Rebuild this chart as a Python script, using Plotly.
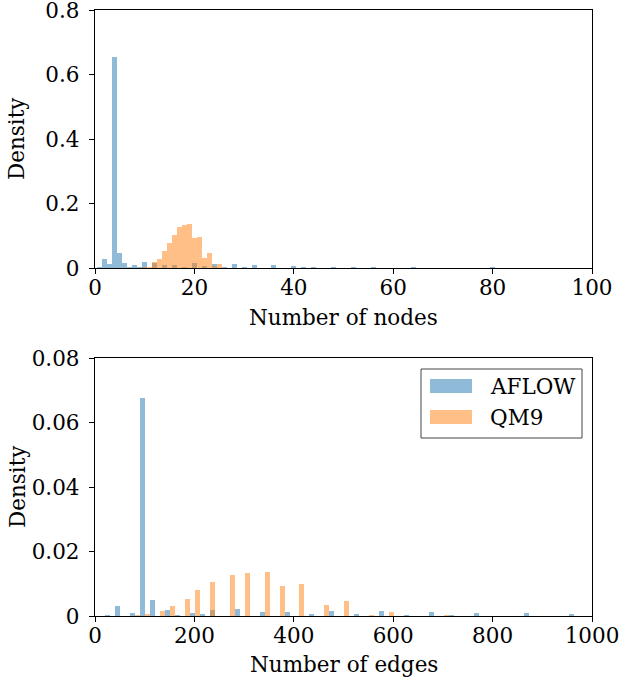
import plotly.graph_objects as go

# ---- Data ----
# Top panel: number of nodes (bin centres, bin width 1)
aflow_nodes_x = [1, 2, 3, 4, 5, 6, 7, 8, 9, 10, 12, 14, 16, 18, 20, 22, 24, 26, 28,
                 30, 32, 36, 40, 42, 44, 48, 52, 56, 64, 80]
aflow_nodes_density = [0.003, 0.028, 0.011, 0.653, 0.046, 0.015, 0.003, 0.009, 0.004, 0.019,
                       0.016, 0.010, 0.010, 0.004, 0.014, 0.005, 0.013, 0.002, 0.011,
                       0.004, 0.008, 0.008, 0.006, 0.003, 0.004, 0.004, 0.004, 0.002, 0.002, 0.004]
qm9_nodes_x = [9, 10, 11, 12, 13, 14, 15, 16, 17, 18, 19, 20, 21, 22, 23, 24, 25, 26]
qm9_nodes_density = [0.001, 0.002, 0.004, 0.018, 0.029, 0.052, 0.077, 0.103, 0.127, 0.132,
                     0.136, 0.093, 0.097, 0.031, 0.046, 0.005, 0.012, 0.001]

# Bottom panel: number of edges (bin centres, bin width ~10)
aflow_edges_x = [25, 45, 75, 95, 115, 146, 166, 196, 216, 236, 287, 337, 387, 436, 476,
                 526, 576, 627, 677, 717, 767, 868, 958]
aflow_edges_density = [0.0004, 0.0030, 0.0010, 0.0677, 0.0049, 0.0018, 0.0002, 0.0009,
                       0.0005, 0.0020, 0.0022, 0.0011, 0.0012, 0.0006, 0.0016, 0.0006,
                       0.0016, 0.0002, 0.0012, 0.0002, 0.0008, 0.0008, 0.0006]
qm9_edges_x = [85, 105, 136, 156, 186, 206, 236, 277, 307, 347, 377, 415, 466, 506, 556, 596, 707]
qm9_edges_density = [0.0002, 0.0007, 0.0014, 0.0030, 0.0052, 0.0080, 0.0106, 0.0128, 0.0133,
                     0.0136, 0.0092, 0.0098, 0.0033, 0.0048, 0.0004, 0.0013, 0.0002]

series_names = ["AFLOW", "QM9"]
top_xticks = [0, 20, 40, 60, 80, 100]
top_yticks = [0, 0.2, 0.4, 0.6, 0.8]
top_yticklabels = ["0", "0.2", "0.4", "0.6", "0.8"]
bot_xticks = [0, 200, 400, 600, 800, 1000]
bot_yticks = [0, 0.02, 0.04, 0.06, 0.08]
bot_yticklabels = ["0", "0.02", "0.04", "0.06", "0.08"]
x_titles = ["Number of nodes", "Number of edges"]
y_title = "Density"

BLUE = "rgba(31,119,180,0.5)"
ORANGE = "rgba(255,127,14,0.5)"
FONT = "DejaVu Serif"
TICK_SIZE = 21.5
LABEL_SIZE = 21.5
W, H = 621, 683

fig = go.Figure()
fig.add_trace(go.Bar(x=aflow_nodes_x, y=aflow_nodes_density, width=1, marker=dict(color=BLUE, line_width=0),
                     name=series_names[0], xaxis="x", yaxis="y", showlegend=False))
fig.add_trace(go.Bar(x=qm9_nodes_x, y=qm9_nodes_density, width=1, marker=dict(color=ORANGE, line_width=0),
                     name=series_names[1], xaxis="x", yaxis="y", showlegend=False))
fig.add_trace(go.Bar(x=aflow_edges_x, y=aflow_edges_density, width=10, marker=dict(color=BLUE, line_width=0),
                     name=series_names[0], xaxis="x2", yaxis="y2", showlegend=False))
fig.add_trace(go.Bar(x=qm9_edges_x, y=qm9_edges_density, width=10, marker=dict(color=ORANGE, line_width=0),
                     name=series_names[1], xaxis="x2", yaxis="y2", showlegend=False))

def px_x(p):
    return p / W

def px_y(p):
    return 1 - p / H

axis_common = dict(showline=True, linecolor="black", linewidth=1.3, mirror=True,
                   ticks="outside", ticklen=5, tickwidth=1.3, tickcolor="black",
                   showgrid=False, zeroline=False, automargin=False,
                   ticklabeloverflow="allow",
                   tickfont=dict(family=FONT, size=TICK_SIZE, color="black"))
xaxis_common = dict(axis_common, ticklabelstandoff=-5)
yaxis_common = dict(axis_common, ticklabelstandoff=5)

xdom = [px_x(95), px_x(592)]
fig.update_layout(
    width=W, height=H,
    margin=dict(l=0, r=0, t=0, b=0, pad=0, autoexpand=False),
    plot_bgcolor="white", paper_bgcolor="white",
    barmode="overlay", bargap=0,
    showlegend=False,
    font=dict(family=FONT, size=TICK_SIZE, color="black"),
    xaxis=dict(domain=xdom, anchor="y", range=[0, 100], tickvals=top_xticks, **xaxis_common),
    yaxis=dict(domain=[px_y(268), px_y(10)], anchor="x", range=[0, 0.8],
               tickvals=top_yticks, ticktext=top_yticklabels, **yaxis_common),
    xaxis2=dict(domain=xdom, anchor="y2", range=[0, 1000], tickvals=bot_xticks, **xaxis_common),
    yaxis2=dict(domain=[px_y(616), px_y(358)], anchor="x2", range=[0, 0.08],
                tickvals=bot_yticks, ticktext=bot_yticklabels, **yaxis_common),
)

lbl_font = dict(family=FONT, size=LABEL_SIZE, color="black")
annotations = [
    dict(text=x_titles[0], xref="paper", yref="paper", x=px_x(343.5), y=px_y(317),
         xanchor="center", yanchor="middle", showarrow=False, font=lbl_font),
    dict(text=x_titles[1], xref="paper", yref="paper", x=px_x(343.5), y=px_y(664),
         xanchor="center", yanchor="middle", showarrow=False, font=lbl_font),
    dict(text=y_title, xref="paper", yref="paper", x=px_x(17), y=px_y(139), textangle=-90,
         xanchor="center", yanchor="middle", showarrow=False, font=lbl_font),
    dict(text=y_title, xref="paper", yref="paper", x=px_x(17), y=px_y(487), textangle=-90,
         xanchor="center", yanchor="middle", showarrow=False, font=lbl_font),
    dict(text=series_names[0], xref="paper", yref="paper", x=px_x(488), y=px_y(386),
         xanchor="left", yanchor="middle", showarrow=False, font=lbl_font),
    dict(text=series_names[1], xref="paper", yref="paper", x=px_x(488), y=px_y(417),
         xanchor="left", yanchor="middle", showarrow=False, font=lbl_font),
]

# Legend drawn manually (matplotlib-style wide patches)
shapes = [
    dict(type="rect", xref="paper", yref="paper", x0=px_x(421), x1=px_x(582), y0=px_y(438), y1=px_y(369),
         line=dict(color="#444444", width=1), fillcolor="white", layer="above"),
    dict(type="rect", xref="paper", yref="paper", x0=px_x(430), x1=px_x(472), y0=px_y(393), y1=px_y(379),
         line=dict(width=0), fillcolor=BLUE, layer="above"),
    dict(type="rect", xref="paper", yref="paper", x0=px_x(430), x1=px_x(472), y0=px_y(424), y1=px_y(410),
         line=dict(width=0), fillcolor=ORANGE, layer="above"),
]
fig.update_layout(shapes=shapes, annotations=annotations)

fig.write_html("out.html", config={"displayModeBar": False},
               post_script="document.body.style.margin='0px';")
